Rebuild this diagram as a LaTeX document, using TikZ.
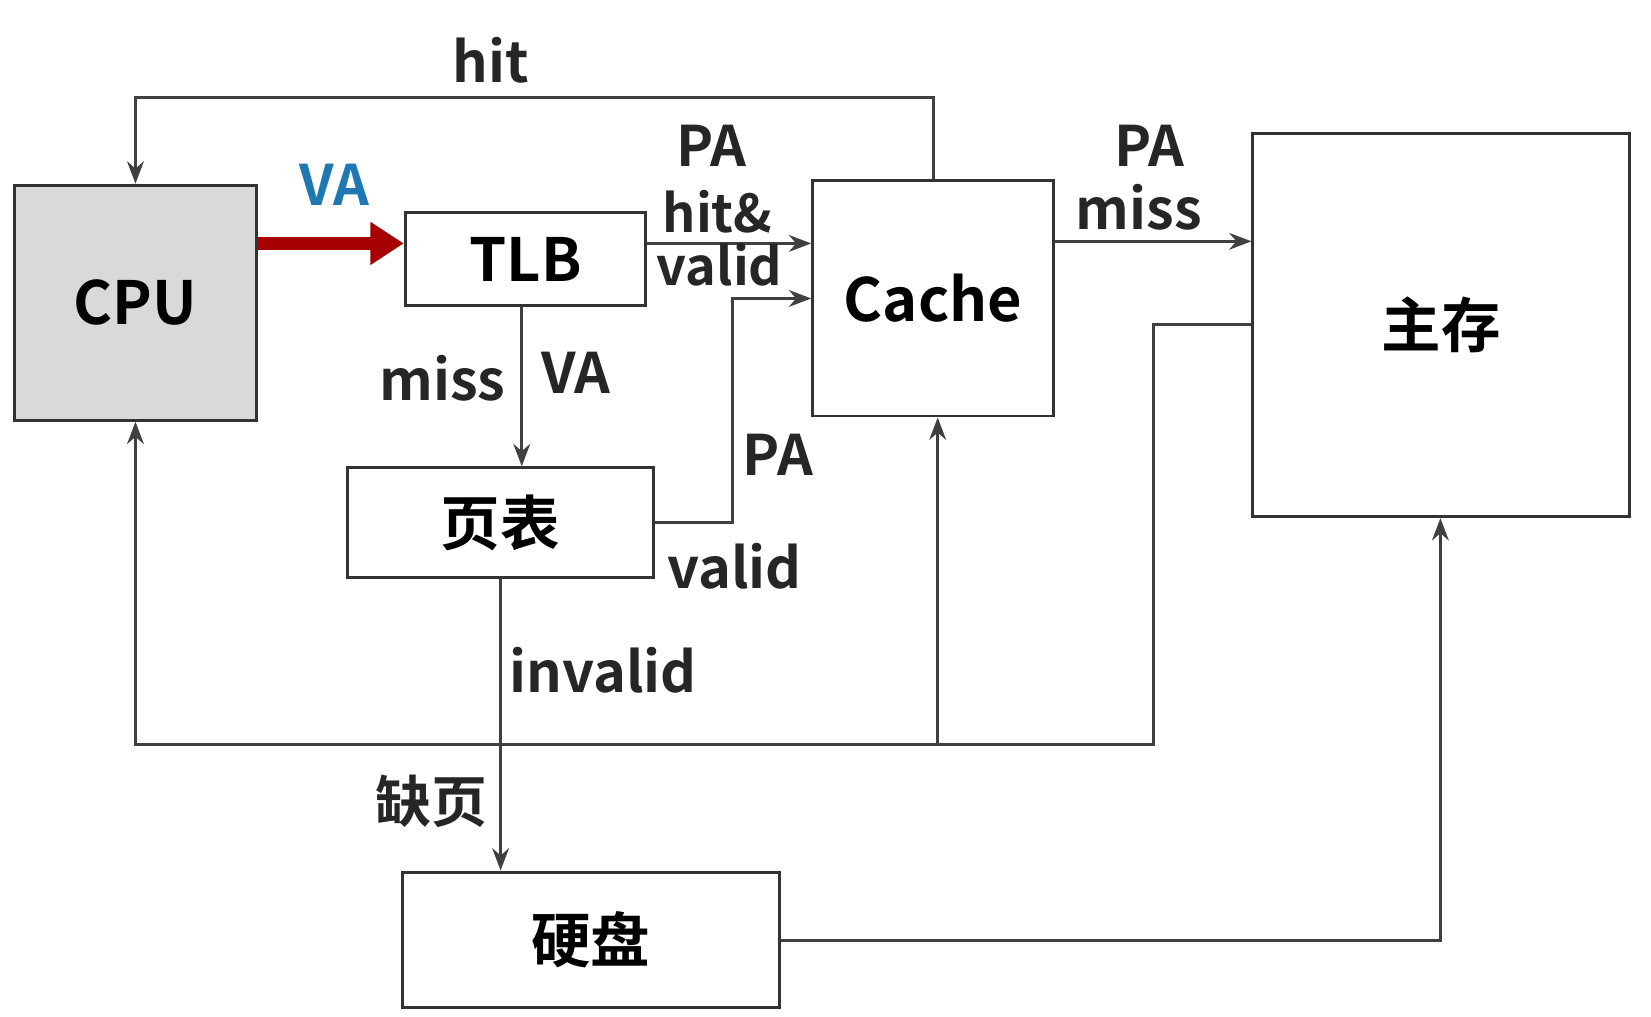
\documentclass[tikz,border=0pt]{standalone}
\usepackage{fontspec}
\setmainfont{Noto Sans CJK SC}[BoldFont={* Bold}]
\usetikzlibrary{arrows.meta}
\begin{document}
\begin{tikzpicture}[x=0.01cm,y=-0.01cm,
  box/.style={draw=black!80,line width=0.8pt,inner sep=0pt,font=\fontsize{16}{19}\selectfont\bfseries},
  lab/.style={font=\fontsize{15}{17}\selectfont\bfseries,inner sep=0pt,text=black!85},
  ln/.style={draw=black!75,line width=0.8pt},
  ar/.style={ln,-{Stealth[length=6pt,width=4.5pt]}}]
\useasboundingbox (0,0) rectangle (1560,960);
\node[box,fill=black!15,minimum width=2.28cm,minimum height=2.22cm] (cpu) at (128,286) {CPU};
\node[box,minimum width=2.27cm,minimum height=0.88cm] (tlb) at (496.5,245) {TLB};
\node[box,minimum width=2.27cm,minimum height=2.22cm] (cache) at (881.5,282) {Cache};
\node[box,minimum width=3.56cm,minimum height=3.62cm] (mem) at (1362,307) {主存};
\node[box,minimum width=2.89cm,minimum height=1.04cm] (pt) at (472.5,494) {页表};
\node[box,minimum width=3.56cm,minimum height=1.28cm] (disk) at (558,888) {硬盘};
\coordinate (h1) at (882,92); \coordinate (h2) at (128,92);
\draw[ar] (cache.north -| h1) -- (h1) -- (h2) -- (cpu.north);
\draw[draw=red!65!black,line width=3.5pt,-{Triangle[length=9pt,width=11pt]}] (cpu.east |- 0,230) -- (tlb.west |- 0,230);
\draw[ar] (tlb.east |- 0,230) -- (cache.west |- 0,230);
\coordinate (p1) at (692,494); \coordinate (p2) at (692,282);
\draw[ar] (pt.east |- p1) -- (p1) -- (p2) -- (cache.west |- p2);
\draw[ar] (tlb.south -| 493,0) -- (pt.north -| 493,0);
\draw[ar] (cache.east |- 0,228) -- (mem.west |- 0,228);
\coordinate (m1) at (1090,307); \coordinate (m2) at (1090,703); \coordinate (m3) at (128,703); \coordinate (m4) at (886,703);
\draw[ar] (mem.west |- m1) -- (m1) -- (m2) -- (m3) -- (cpu.south);
\draw[ar] (m4) -- (cache.south -| m4);
\draw[ar] (pt.south -| 473,0) -- (disk.north -| 473,0);
\coordinate (d1) at (1361,889);
\draw[ar] (disk.east |- d1) -- (d1) -- (mem.south -| d1);
\node[lab] (l1) at (464,57) {hit};
\node[lab,text={rgb,255:red,31;green,120;blue,180}] (l2) at (316,175) {VA};
\node[lab] (l3) at (672,138) {PA};
\node[lab,font=\fontsize{14}{16}\selectfont\bfseries] (l4) at (678,200) {hit\&};
\node[lab,font=\fontsize{14}{16}\selectfont\bfseries] (l5) at (680,250) {valid};
\node[lab] (l6) at (1086,138) {PA};
\node[lab] (l7) at (1076,196) {miss};
\node[lab] (l8) at (418,357) {miss};
\node[lab] (l9) at (544,352) {VA};
\node[lab] (l10) at (735,430) {PA};
\node[lab] (l11) at (694,535) {valid};
\node[lab] (l12) at (570,633) {invalid};
\node[lab] (l13) at (408,757) {缺页};
\end{tikzpicture}
\end{document}
